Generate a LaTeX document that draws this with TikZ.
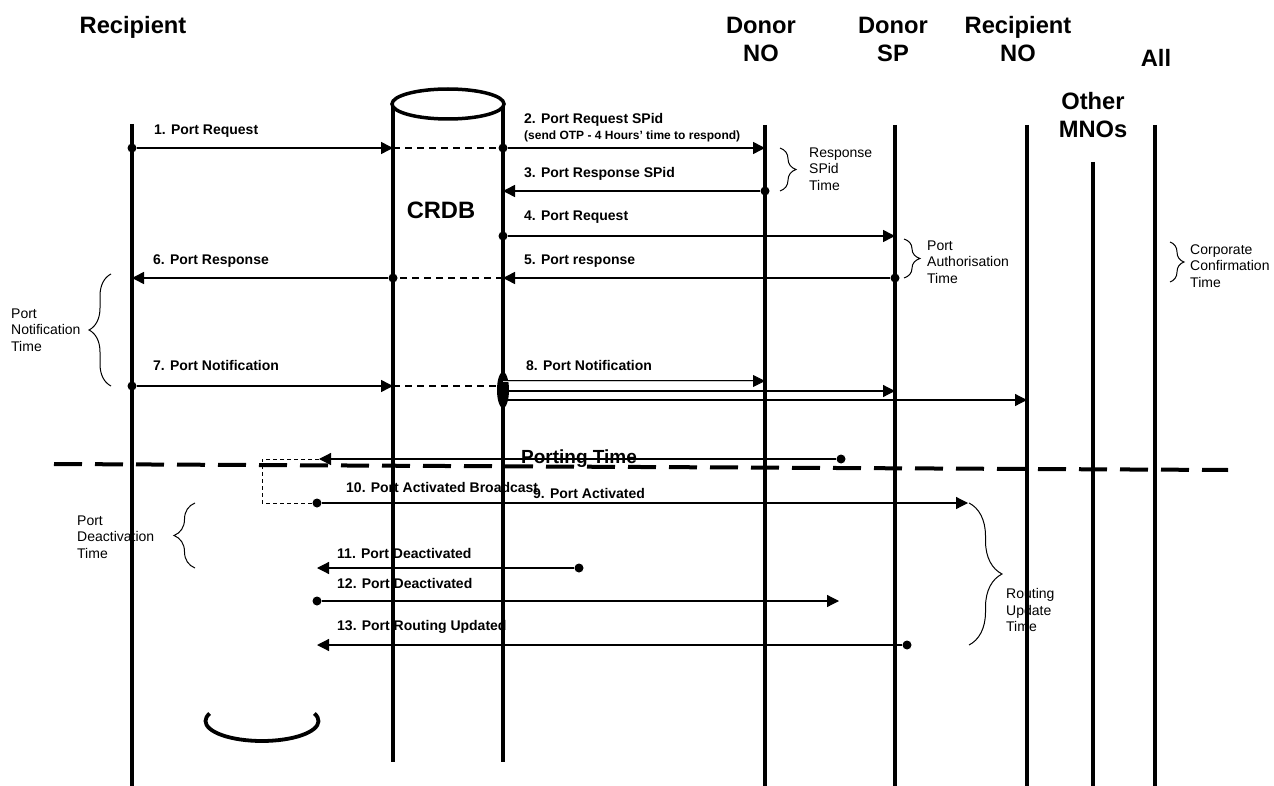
\documentclass[tikz,border=0pt]{standalone}
\usepackage{fontspec}
\setmainfont{Liberation Sans}
\usetikzlibrary{arrows.meta,decorations.pathreplacing,calc,shapes.geometric}
\begin{document}
\begin{tikzpicture}[x=1pt,y=-1pt,
  lifeline/.style={line width=3.5pt},
  msg/.style={line width=1.5pt,-{Triangle[length=12pt,width=12pt]}},
  thinmsg/.style={line width=1.2pt,-{Triangle[length=12pt,width=12pt]}},
  dashlink/.style={line width=1.5pt,dash pattern=on 7pt off 5pt},
  dotnode/.style={circle,fill=black,inner sep=0pt,minimum size=9pt},
  hdr/.style={font=\fontsize{23.7}{28}\selectfont\bfseries,align=center,inner sep=0pt},
  lbl/.style={font=\fontsize{14}{16}\selectfont\bfseries,anchor=west,inner sep=0pt},
  note/.style={font=\fontsize{14}{16.5}\selectfont,align=left,anchor=west,inner sep=0pt},
  bracepath/.style={line width=1pt,decorate,decoration={brace,amplitude=#1}},
]
\useasboundingbox (0,0) rectangle (1274,786);
\fill[white] (0,0) rectangle (1274,786);

% headers
\node[hdr] (hRec) at (133,27) {Recipient};
\node[hdr] (hDNO) at (761,39) {Donor\\NO};
\node[hdr] (hDSP) at (893,39) {Donor\\SP};
\node[hdr] (hRNO) at (1018,39) {Recipient\\NO};
\node[hdr] (hAll) at (1156,58) {All};
\node[hdr] (hOth) at (1093,115) {Other\\MNOs};
\node[hdr] (hCRDB) at (441,210) {CRDB};

% lifelines
\coordinate (recT) at (132,124);  \coordinate (recB) at (132,786);
\coordinate (cLT) at (393,104);   \coordinate (cLB) at (393,762);
\coordinate (cRT) at (503,104);   \coordinate (cRB) at (503,762);
\coordinate (dnoT) at (765,125);  \coordinate (dnoB) at (765,786);
\coordinate (dspT) at (895,125);  \coordinate (dspB) at (895,786);
\coordinate (rnoT) at (1027,125); \coordinate (rnoB) at (1027,786);
\coordinate (othT) at (1093,162); \coordinate (othB) at (1093,786);
\coordinate (allT) at (1155,125); \coordinate (allB) at (1155,786);
\foreach \a/\b in {recT/recB,cLT/cLB,cRT/cRB,dnoT/dnoB,dspT/dspB,rnoT/rnoB,othT/othB,allT/allB}
  \draw[lifeline] (\a) -- (\b);
\node[draw,line width=3.5pt,ellipse,minimum width=112pt,minimum height=30pt,inner sep=0pt,fill=white] (crdbTop) at (448,104) {};
% bottom arc
\draw[line width=3.8pt] ($(262,721)+(-22:56.5 and 20)$) coordinate (arcS)
  arc[start angle=-22,end angle=202,x radius=56.5,y radius=20];

% separator
\coordinate (sepL) at (54,464); \coordinate (sepR) at (1228,470);
\draw[line width=4pt,dash pattern=on 28pt off 13pt] (sepL) -- (sepR);

% message 1
\node[dotnode] (d1) at (132,148) {};
\coordinate (m1e) at (393,148);
\node[dotnode] (d2) at (503,148) {};
\coordinate (m2e) at (765,148);
\draw[msg] (d1) -- (m1e);
\draw[dashlink] (m1e) -- (d2);
\draw[msg] (d2) -- (m2e);
\node[lbl] (l1) at (154,131) {1. Port Request};
\node[lbl] (l2) at (524,120) {2. Port Request SPid};
\node[lbl,font=\fontsize{12}{13}\selectfont\bfseries] (l2b) at (524,136) {(send OTP - 4 Hours’ time to respond)};

% message 3
\node[dotnode] (d3) at (765,191) {};
\coordinate (m3e) at (503,191);
\draw[msg] (d3) -- (m3e);
\node[lbl] (l3) at (524,174) {3. Port Response SPid};

% message 4
\node[dotnode] (d4) at (503,236) {};
\coordinate (m4e) at (895,236);
\draw[msg] (d4) -- (m4e);
\node[lbl] (l4) at (524,217) {4. Port Request};

% message 5/6
\node[dotnode] (d5) at (895,278) {};
\coordinate (m5e) at (503,278);
\node[dotnode] (d6) at (393,278) {};
\coordinate (m6e) at (132,278);
\draw[msg] (d5) -- (m5e);
\draw[dashlink] (m5e) -- (d6);
\draw[msg] (d6) -- (m6e);
\node[lbl] (l5) at (524,261) {5. Port response};
\node[lbl] (l6) at (153,261) {6. Port Response};

% message 7/8
\node[dotnode] (d7) at (132,386) {};
\coordinate (m7e) at (393,386);
\coordinate (m7f) at (503,386);
\draw[msg] (d7) -- (m7e);
\draw[dashlink] (m7e) -- (m7f);
\node[ellipse,fill=black,minimum width=12pt,minimum height=36pt,inner sep=0pt] (e8) at (503,390) {};
\coordinate (m8a) at (503,381); \coordinate (m8ae) at (765,381);
\coordinate (m8b) at (503,391); \coordinate (m8be) at (895,391);
\coordinate (m8c) at (503,400); \coordinate (m8ce) at (1027,400);
\draw[line width=0.8pt,double=gray!40,double distance=1pt,-{Triangle[length=12pt,width=12pt]}] (m8a) -- (m8ae);
\draw[thinmsg] (m8b) -- (m8be);
\draw[thinmsg] (m8c) -- (m8ce);
\node[lbl] (l7) at (153,365) {7. Port Notification};
\node[lbl] (l8) at (526,365) {8. Port Notification};

% porting time
\node[dotnode] (dP) at (841,459) {};
\coordinate (mPe) at (319,459);
\draw[thinmsg] (dP) -- (mPe);
\node[font=\fontsize{19}{22}\selectfont\bfseries,inner sep=0pt] (lP) at (579,459) {Porting Time};
\node[dotnode] (d9) at (317,503) {};
\coordinate (c9a) at (262,459); \coordinate (c9b) at (262,503);
\draw[line width=1pt,dash pattern=on 4pt off 3pt] (mPe) -- (c9a) -- (c9b) -- (d9);
\coordinate (m9e) at (968,503);
\draw[thinmsg] (d9) -- (m9e);
\node[lbl] (l10) at (346,487) {10. Port Activated Broadcast};
\node[lbl] (l9) at (533,493) {9. Port Activated};

% 11-13
\node[dotnode] (d11) at (579,568) {};
\coordinate (m11e) at (317,568);
\draw[thinmsg] (d11) -- (m11e);
\node[lbl] (l11) at (337,553) {11. Port Deactivated};
\node[dotnode] (d12) at (317,601) {};
\coordinate (m12e) at (839,601);
\draw[thinmsg] (d12) -- (m12e);
\node[lbl] (l12) at (337,583) {12. Port Deactivated};
\node[dotnode] (d13) at (907,645) {};
\coordinate (m13e) at (317,645);
\draw[thinmsg] (d13) -- (m13e);
\node[lbl] (l13) at (337,627) {13. Port Routing Updated};

% braces and notes
\coordinate (bNa) at (111,386); \coordinate (bNb) at (111,274);
\draw[bracepath=22] (bNa) -- (bNb);
\node[note] (nN) at (11,330) {Port\\Notification\\Time};

\coordinate (bRa) at (780,148); \coordinate (bRb) at (780,191);
\draw[bracepath=16] (bRa) -- (bRb);
\node[note] (nR) at (809,169) {Response\\SPid\\Time};

\coordinate (bAa) at (904,239); \coordinate (bAb) at (904,278);
\draw[bracepath=16] (bAa) -- (bAb);
\node[note] (nA) at (927,262) {Port\\Authorisation\\Time};

\coordinate (bCa) at (1170,242); \coordinate (bCb) at (1170,282);
\draw[bracepath=14] (bCa) -- (bCb);
\node[note] (nC) at (1190,266) {Corporate\\Confirmation\\Time};

\coordinate (bDa) at (195,568); \coordinate (bDb) at (195,503);
\draw[bracepath=21] (bDa) -- (bDb);
\node[note] (nD) at (77,537) {Port\\Deactivation\\Time};

\coordinate (bUa) at (969,503); \coordinate (bUb) at (969,645);
\draw[bracepath=33] (bUa) -- (bUb);
\node[note] (nU) at (1006,610) {Routing\\Update\\Time};
\end{tikzpicture}
\end{document}
